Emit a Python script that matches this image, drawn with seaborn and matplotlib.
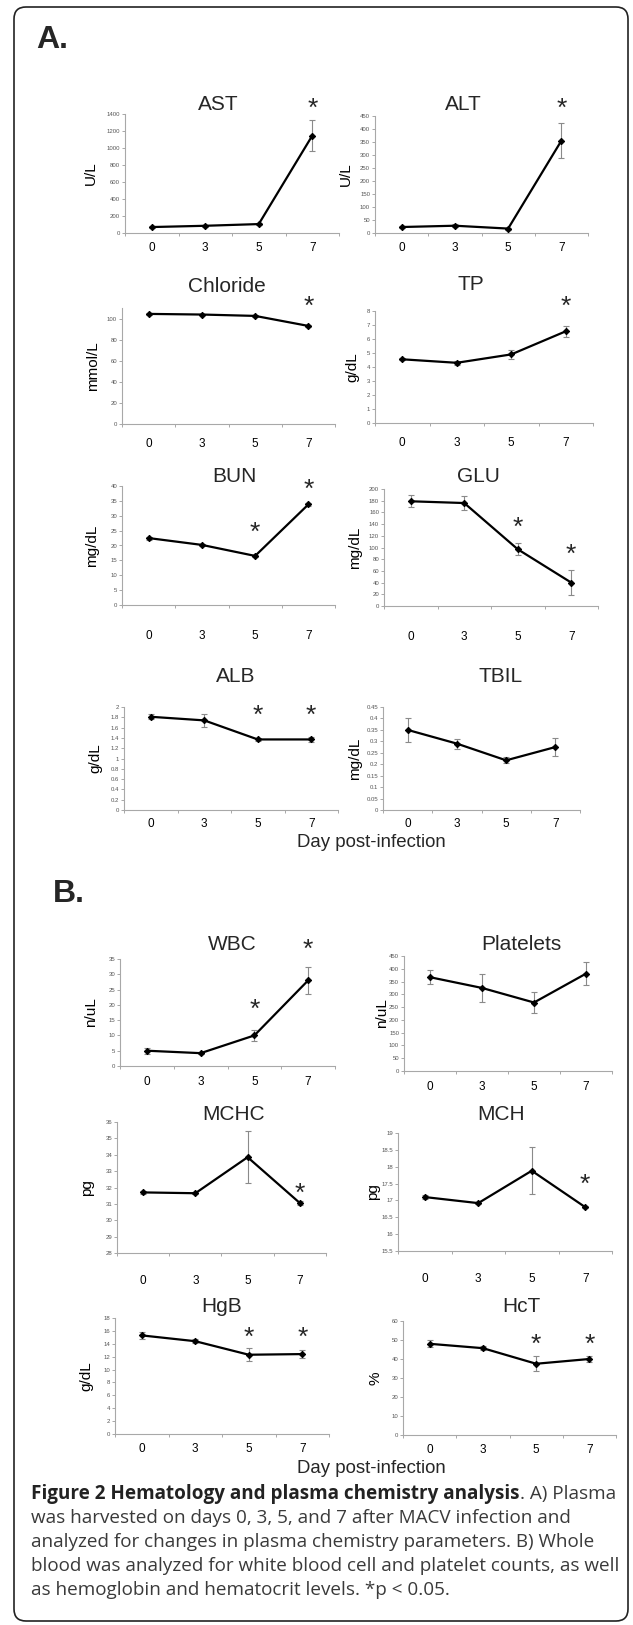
import numpy as np
import matplotlib
matplotlib.use("Agg")
import matplotlib.pyplot as plt
import matplotlib.transforms as mtransforms
from matplotlib.patches import FancyBboxPatch
from matplotlib.ticker import FixedLocator, FormatStrFormatter
import seaborn as sns

# ---------------- data ----------------
days = ["0", "3", "5", "7"]

ast = [70, 85, 105, 1145]
ast_err = [15, 15, 15, 182]
alt = [23, 28, 17, 355]
alt_err = [5, 5, 4, 67]
chloride = [104.4, 103.8, 102.5, 93.0]
chloride_err = [1.0, 0.8, 0.8, 1.2]
tp = [4.55, 4.3, 4.9, 6.55]
tp_err = [0.06, 0.15, 0.3, 0.38]
bun = [22.5, 20.2, 16.5, 33.8]
bun_err = [0.5, 0.4, 0.3, 0.4]
glu = [179, 176, 97, 40]
glu_err = [10, 12, 10, 22]
alb = [1.81, 1.74, 1.37, 1.37]
alb_err = [0.05, 0.12, 0.03, 0.05]
tbil = [0.35, 0.29, 0.217, 0.275]
tbil_err = [0.053, 0.022, 0.013, 0.04]
wbc = [5.0, 4.2, 10.0, 28.0]
wbc_err = [1.0, 0.3, 1.7, 4.3]
platelets = [367, 325, 268, 381]
platelets_err = [28, 55, 42, 44]
mchc = [31.7, 31.65, 33.85, 31.05]
mchc_err = [0.1, 0.05, 1.6, 0.1]
mch = [17.1, 16.92, 17.88, 16.8]
mch_err = [0.05, 0.03, 0.7, 0.03]
hgb = [15.3, 14.4, 12.3, 12.4]
hgb_err = [0.5, 0.3, 1.0, 0.6]
hct = [48.0, 45.7, 37.5, 40.0]
hct_err = [1.8, 1.0, 4.0, 1.8]

titles = ["AST", "ALT", "Chloride", "TP", "BUN", "GLU", "ALB", "TBIL",
          "WBC", "Platelets", "MCHC", "MCH", "HgB", "HcT"]
units = ["U/L", "U/L", "mmol/L", "g/dL", "mg/dL", "mg/dL", "g/dL", "mg/dL",
         "n/uL", "n/uL", "pg", "pg", "g/dL", "%"]
# y axis: (min, max of ticks, step)
y_ticks = [(0, 1400, 200), (0, 450, 50), (0, 100, 20), (0, 8, 1),
           (0, 40, 5), (0, 200, 20), (0, 2, 0.2), (0, 0.45, 0.05),
           (0, 35, 5), (0, 450, 50), (28, 36, 1), (15.5, 19, 0.5),
           (0, 18, 2), (0, 60, 10)]
# indices (into days) marked significant
sig = [[3], [3], [3], [3], [2, 3], [2, 3], [2, 3], [],
       [2, 3], [], [3], [3], [2, 3], [2, 3]]

values = [ast, alt, chloride, tp, bun, glu, alb, tbil,
          wbc, platelets, mchc, mch, hgb, hct]
errors = [ast_err, alt_err, chloride_err, tp_err, bun_err, glu_err, alb_err, tbil_err,
          wbc_err, platelets_err, mchc_err, mch_err, hgb_err, hct_err]

caption_bold = "Figure 2 Hematology and plasma chemistry analysis"
caption_lines = [". A) Plasma",
                 "was harvested on days 0, 3, 5, and 7 after MACV infection and",
                 "analyzed for changes in plasma chemistry parameters. B) Whole",
                 "blood was analyzed for white blood cell and platelet counts, as well",
                 "as hemoglobin and hematocrit levels. *p < 0.05."]

# ---------------- layout (pixels) ----------------
W, H = 633, 1625
# axes: x0, x1, ytop, ybottom, ytop_value
axes_px = [(125, 339, 114, 233, 1400), (375, 588, 116, 233, 450),
           (122, 335, 308, 424, 110), (375, 593, 311, 423, 8),
           (122, 335, 486, 605, 40), (384, 598, 489, 606, 200),
           (124, 338, 707, 810, 2), (383, 580, 707, 810, 0.45),
           (120, 335, 959, 1066, 35), (404, 612, 956, 1071, 450),
           (117, 326, 1122, 1253, 36), (398, 612, 1133, 1251, 19),
           (115, 329, 1318, 1434, 18), (403, 616, 1321, 1435, 60)]
title_px = [(218, 102), (463, 102), (227, 285), (471, 283), (234, 475), (478, 475),
            (236, 675), (501, 675), (232, 942), (521, 942), (234, 1113), (501, 1113),
            (222, 1305), (521, 1305)]
ylabel_x = [91, 346, 93, 352, 92, 355, 95, 355, 91, 382, 87, 373, 86, 376]
star_y = [[102], [102], [300], [300], [526, 483], [521, 548], [709, 709], [],
          [1003, 943], [], [1187], [1178], [1331, 1331], [1338, 1338]]
xlab_gap = [15, 15, 20, 20, 31, 31, 14, 14, 16, 16, 28, 28, 15, 15]

sns.set_style("white")
plt.rcParams['font.family'] = ['Liberation Sans', 'DejaVu Sans']

fig = plt.figure(figsize=(W / 100, H / 100), dpi=100)

def fx(x):
    return x / W

def fy(y):
    return 1 - y / H

x = np.arange(len(days))
for i in range(14):
    x0, x1, yt, yb, ytopv = axes_px[i]
    ax = fig.add_axes([fx(x0), fy(yb), (x1 - x0) / W, (yb - yt) / H])
    ymin, ymax, ystep = y_ticks[i]
    ax.errorbar(x, values[i], yerr=errors[i], fmt='none', ecolor='#8a8a8a',
                elinewidth=0.8, capsize=2.2, capthick=0.8, zorder=2)
    sns.lineplot(x=x, y=values[i], ax=ax, color='black', linewidth=1.6,
                 marker='D', markersize=3.2, markeredgecolor='black', zorder=3)
    ax.set_xlim(-0.5, len(days) - 0.5)
    ax.set_ylim(ymin, ytopv)
    ticks = np.round(np.arange(ymin, ymax + ystep / 2, ystep), 4)
    ax.yaxis.set_major_locator(FixedLocator(ticks))
    ax.yaxis.set_major_formatter(FormatStrFormatter('%g'))
    ax.set_xticks(x)
    ax.set_xticklabels(days)
    ax.xaxis.set_minor_locator(FixedLocator(np.arange(-0.5, len(days), 1.0)))
    ax.tick_params(axis='x', which='major', length=0, labelsize=8.5,
                   pad=(xlab_gap[i] - 6) * 0.72, colors='black')
    ax.tick_params(axis='x', which='minor', length=2.5, width=0.6,
                   color='#9a9a9a', direction='out', bottom=True)
    ax.tick_params(axis='y', which='major', length=2, width=0.6, color='#9a9a9a',
                   direction='out', labelsize=4.3, labelcolor='#555555', pad=1.5, left=True)
    sns.despine(ax=ax)
    for s in ('left', 'bottom'):
        ax.spines[s].set_color('#a8a8a8')
        ax.spines[s].set_linewidth(0.8)
    ax.set_xlabel('')
    ax.set_ylabel(units[i], fontsize=11, color='black')
    ax.yaxis.label.set_va('center')
    ax.yaxis.set_label_coords((ylabel_x[i] - x0) / (x1 - x0), 0.5)
    ax.patch.set_alpha(0)
    # title
    tx, ty = title_px[i]
    fig.text(fx(tx), fy(ty + 7.5), titles[i], ha='center', va='baseline', fontsize=15)
    # significance stars
    trans = mtransforms.blended_transform_factory(ax.transData, fig.transFigure)
    for d, sy in zip(sig[i], star_y[i]):
        ax.text(d, fy(sy + 14), '*', transform=trans, ha='center', va='baseline',
                fontsize=19, clip_on=False)

# panel letters
fig.text(fx(36), fy(48), "A.", fontsize=23, fontweight='bold', ha='left', va='baseline')
fig.text(fx(53), fy(902), "B.", fontsize=23, fontweight='bold', ha='left', va='baseline')

# common x labels
fig.text(fx(371), fy(847), "Day post-infection", fontsize=13.4, ha='center', va='baseline')
fig.text(fx(371), fy(1473), "Day post-infection", fontsize=13.4, ha='center', va='baseline')

# frame
frame = FancyBboxPatch((0.14, 0.04), 6.14, 16.14,
                       boxstyle="round,pad=0,rounding_size=0.12",
                       transform=fig.dpi_scale_trans, fill=False,
                       edgecolor='#222222', linewidth=1.2)
fig.patches.append(frame)

# caption
cap_font = ['Open Sans', 'DejaVu Sans']
cap_size = 13.6
base = [1499, 1523, 1547, 1571, 1595]
t = fig.text(fx(31), fy(base[0]), caption_bold, fontsize=cap_size, fontweight='bold',
             family=cap_font, color='#222222', ha='left', va='baseline')
fig.canvas.draw()
bb = t.get_window_extent(renderer=fig.canvas.get_renderer())
fig.text(bb.x1 / W, fy(base[0]), caption_lines[0], fontsize=cap_size, family=cap_font,
         color='#3a3a3a', ha='left', va='baseline')
for line, b in zip(caption_lines[1:], base[1:]):
    fig.text(fx(31), fy(b), line, fontsize=cap_size, family=cap_font,
             color='#3a3a3a', ha='left', va='baseline')

fig.savefig("out.png", dpi=100, facecolor='white')
